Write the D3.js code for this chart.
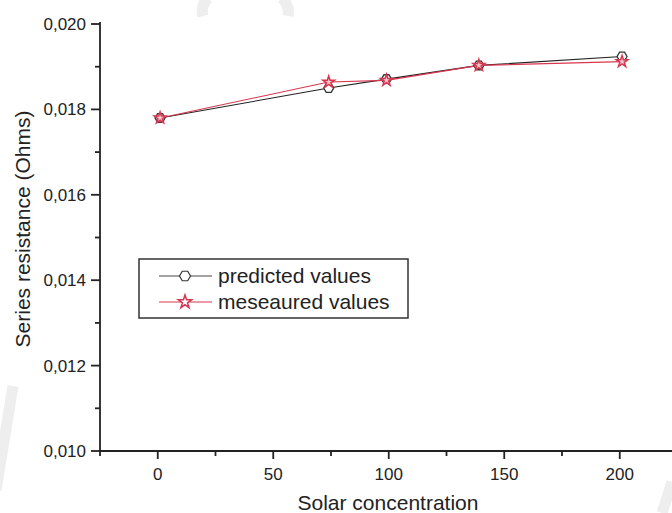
<!DOCTYPE html>
<html>
<head>
<meta charset="utf-8">
<script src="https://cdn.jsdelivr.net/npm/d3@7"></script>
<style>
  body { margin: 0; background: #fff; }
  svg { display: block; font-family: "Liberation Sans", Arial, sans-serif; }
</style>
</head>
<body>
<svg id="chart" width="672" height="513"></svg>
<script>
// data
var concentration = [1, 74, 99, 139, 201];
var predicted = [0.0178, 0.0185, 0.01871, 0.01903, 0.01924];
var measured = [0.0178, 0.01864, 0.01868, 0.01903, 0.01912];
var seriesNames = ["predicted values", "meseaured values"];
var xTicks = [0, 50, 100, 150, 200];
var yTicks = [0.010, 0.012, 0.014, 0.016, 0.018, 0.020];

var svg = d3.select("#chart");
var ink = "#222";
var red = "#d8354f";

var x = d3.scaleLinear().domain([-25, 225]).range([100, 677.5]);
var y = d3.scaleLinear().domain([0.010, 0.020]).range([451, 24]);

// faint watermark bits
var wm = svg.append("g").attr("fill", "none").attr("stroke", "#eeeeee").attr("stroke-width", 11);
wm.append("path").attr("d", "M-4,490 L13,386");
wm.append("path").attr("d", "M208,-2 Q200,6 203,16");
wm.append("path").attr("d", "M282,-2 Q290,6 288,16");
wm.append("path").attr("d", "M662,513 L672,482");

// axes
var minorX = d3.range(-25, 226, 25).filter(function(v) { return v % 50 !== 0; });
var minorY = d3.range(0.011, 0.0200, 0.002);

var xAxis = svg.append("g").attr("transform", "translate(0," + y(0.010) + ")");
xAxis.append("line").attr("x1", 100).attr("x2", 672)
  .attr("stroke", ink).attr("stroke-width", 1.8);
xAxis.selectAll(".maj").data(xTicks).enter().append("line")
  .attr("x1", function(d) { return x(d); }).attr("x2", function(d) { return x(d); })
  .attr("y1", 0).attr("y2", 8).attr("stroke", ink).attr("stroke-width", 1.8);
xAxis.selectAll(".min").data(minorX).enter().append("line")
  .attr("x1", function(d) { return x(d); }).attr("x2", function(d) { return x(d); })
  .attr("y1", 0).attr("y2", 5).attr("stroke", ink).attr("stroke-width", 1.8);
xAxis.selectAll("text").data(xTicks).enter().append("text")
  .attr("x", function(d) { return x(d); }).attr("y", 29)
  .attr("text-anchor", "middle").attr("font-size", 17).attr("fill", ink)
  .text(function(d) { return d; });

var yAxis = svg.append("g").attr("transform", "translate(100,0)");
yAxis.append("line").attr("y1", 22).attr("y2", y(0.010))
  .attr("stroke", ink).attr("stroke-width", 1.8);
yAxis.selectAll(".maj").data(yTicks).enter().append("line")
  .attr("y1", function(d) { return y(d); }).attr("y2", function(d) { return y(d); })
  .attr("x1", 0).attr("x2", -9).attr("stroke", ink).attr("stroke-width", 1.8);
yAxis.selectAll(".min").data(minorY).enter().append("line")
  .attr("y1", function(d) { return y(d); }).attr("y2", function(d) { return y(d); })
  .attr("x1", 0).attr("x2", -5).attr("stroke", ink).attr("stroke-width", 1.8);
var fmt = d3.format(".3f");
yAxis.selectAll("text").data(yTicks).enter().append("text")
  .attr("x", -14).attr("y", function(d) { return y(d) + 6; })
  .attr("text-anchor", "end").attr("font-size", 17).attr("fill", ink)
  .text(function(d) { return fmt(d).replace(".", ","); });

svg.append("text").attr("x", 388).attr("y", 510)
  .attr("text-anchor", "middle").attr("font-size", 21).attr("fill", ink)
  .text("Solar concentration");
svg.append("text").attr("transform", "translate(30,229) rotate(-90)")
  .attr("text-anchor", "middle").attr("font-size", 21).attr("fill", ink)
  .text("Series resistance (Ohms)");

// markers
function hexPath(cx, cy, r) {
  var pts = d3.range(6).map(function(i) {
    var a = Math.PI / 3 * i;
    return [cx + r * Math.cos(a), cy + r * Math.sin(a)];
  });
  return "M" + pts.join("L") + "Z";
}
var star = d3.symbol().type(d3.symbolStar).size(42);

function drawSeries(vals, color, marker) {
  var pts = concentration.map(function(c, i) { return [x(c), y(vals[i])]; });
  svg.append("path").attr("d", d3.line()(pts))
    .attr("fill", "none").attr("stroke", color).attr("stroke-width", 1.1);
  pts.forEach(function(p) { marker(p[0], p[1]); });
}
function hexMarker(cx, cy) {
  svg.append("path").attr("d", hexPath(cx, cy, 5))
    .attr("fill", "#fff").attr("stroke", "#333").attr("stroke-width", 1.3);
}
function starMarker(cx, cy) {
  svg.append("path").attr("d", star()).attr("transform", "translate(" + cx + "," + cy + ")")
    .attr("fill", "#f6c9d1").attr("stroke", red).attr("stroke-width", 1.5);
}
drawSeries(predicted, ink, hexMarker);
drawSeries(measured, red, starMarker);

// legend
var lg = svg.append("g");
lg.append("rect").attr("x", 139).attr("y", 259).attr("width", 269).attr("height", 59)
  .attr("fill", "#fff").attr("stroke", "#333").attr("stroke-width", 1.5);
var rows = [
  { name: seriesNames[0], color: "#444", y: 276, m: function(cx, cy) {
      lg.append("path").attr("d", hexPath(cx, cy, 5.5)).attr("fill", "#fff").attr("stroke", "#333").attr("stroke-width", 1.2);
    } },
  { name: seriesNames[1], color: red, y: 302, m: function(cx, cy) {
      lg.append("path").attr("d", d3.symbol().type(d3.symbolStar).size(55)())
        .attr("transform", "translate(" + cx + "," + cy + ")")
        .attr("fill", "#fff").attr("stroke", red).attr("stroke-width", 1.5);
    } }
];
rows.forEach(function(r) {
  lg.append("line").attr("x1", 159).attr("x2", 212).attr("y1", r.y).attr("y2", r.y)
    .attr("stroke", r.color).attr("stroke-width", 1);
  r.m(185, r.y);
  lg.append("text").attr("x", 218).attr("y", r.y + 7).attr("font-size", 21).attr("fill", ink)
    .text(r.name);
});
</script>
</body>
</html>
